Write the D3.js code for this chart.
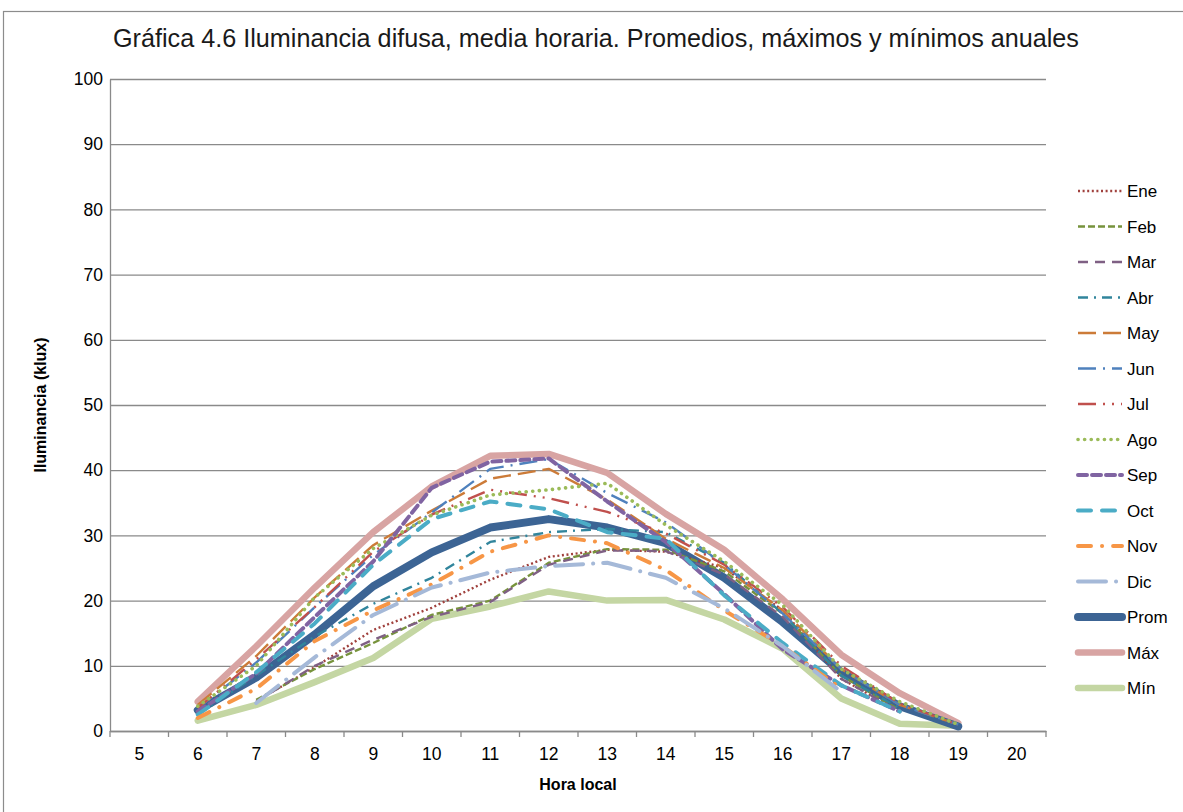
<!DOCTYPE html>
<html>
<head>
<meta charset="utf-8">
<script src="https://cdn.jsdelivr.net/npm/d3@7"></script>
<style>
  body { margin: 0; background: #fff; }
  svg { font-family: "Liberation Sans", Arial, sans-serif; }
</style>
</head>
<body>
<div class="chart-holder"></div>
<script>
// categories on the x axis (hora local)
var hours = [5, 6, 7, 8, 9, 10, 11, 12, 13, 14, 15, 16, 17, 18, 19, 20];
// values for hours 6..19 (null = no data)
var dataHours = [6, 7, 8, 9, 10, 11, 12, 13, 14, 15, 16, 17, 18, 19];
var yTicks = [0, 10, 20, 30, 40, 50, 60, 70, 80, 90, 100];

var ene  = [null, 4.6, 9.8, 15.5, 18.9, 23.2, 26.7, 27.8, 27.5, 25.0, 18.5, 8.0, 3.0, null];
var feb  = [null, 4.8, 9.5, 13.5, 17.8, 20.0, 25.8, 27.9, 27.8, 24.5, 18.0, 8.5, 3.2, null];
var mar  = [null, 4.5, 10.0, 14.0, 17.5, 19.8, 25.5, 27.7, 27.6, 24.0, 17.5, 8.0, 3.0, null];
var abr  = [2.5, 8.5, 14.5, 19.5, 23.5, 29.0, 30.5, 31.0, 30.5, 25.8, 18.0, 8.5, 3.5, null];
var may  = [4.0, 11.5, 20.5, 28.5, 33.8, 38.7, 40.2, 35.5, 29.5, 25.0, 18.5, 9.5, 4.0, 1.0];
var jun  = [3.5, 10.5, 19.0, 27.0, 33.5, 40.2, 41.7, 36.5, 32.0, 25.5, 18.0, 9.5, 4.0, 1.0];
var jul  = [3.5, 11.0, 19.0, 27.5, 33.2, 37.0, 35.7, 33.6, 30.3, 25.5, 19.0, 10.0, 4.2, 1.0];
var ago  = [3.8, 10.0, 20.5, 28.0, 33.1, 36.2, 37.0, 38.0, 31.6, 26.0, 19.3, 9.5, 4.5, 1.0];
var sep  = [3.0, 8.8, 17.5, 26.0, 37.3, 41.3, 41.8, 35.2, 29.0, 21.0, 12.5, 7.0, 3.0, null];
var oct  = [2.5, 9.0, 16.5, 25.5, 32.5, 35.2, 34.0, 30.5, 29.5, 20.8, 13.5, 7.0, 3.0, null];
var nov  = [2.0, 6.5, 13.8, 18.5, 22.5, 27.5, 30.0, 28.8, 24.7, 18.5, 13.0, 6.5, null, null];
var dic  = [null, 4.3, 11.3, 17.8, 22.0, 24.3, 25.3, 25.8, 23.5, 18.8, 13.0, 6.0, null, null];
var prom = [3.2, 8.2, 14.8, 22.2, 27.4, 31.2, 32.5, 31.2, 28.8, 23.5, 16.7, 9.0, 3.8, 0.7];
var maxi = [4.5, 13.0, 22.0, 30.5, 37.5, 42.2, 42.5, 39.6, 33.3, 27.8, 20.2, 11.7, 5.8, 1.2];
var mini = [1.6, 4.0, 7.5, 11.2, 17.2, 19.1, 21.4, 20.0, 20.1, 17.1, 12.6, 5.0, 1.1, 0.8];

var seriesNames = ["Ene", "Feb", "Mar", "Abr", "May", "Jun", "Jul", "Ago", "Sep", "Oct", "Nov", "Dic", "Prom", "Máx", "Mín"];
var seriesValues = [ene, feb, mar, abr, may, jun, jul, ago, sep, oct, nov, dic, prom, maxi, mini];

// line styles per series
var styles = {
  "Ene":  {color: "#A0413D", width: 2.4, dash: "2,2.6", cap: "butt"},
  "Feb":  {color: "#77933C", width: 2.4, dash: "7,3", cap: "butt"},
  "Mar":  {color: "#7F6084", width: 2.4, dash: "10,7", cap: "butt"},
  "Abr":  {color: "#31859C", width: 2.4, dash: "10,6,2,6", cap: "butt"},
  "May":  {color: "#CC7B38", width: 2.4, dash: "18,7", cap: "butt"},
  "Jun":  {color: "#4F81BD", width: 2.4, dash: "18,7,2,7", cap: "butt"},
  "Jul":  {color: "#C0504D", width: 2.4, dash: "18,7,2,7,2,7", cap: "butt"},
  "Ago":  {color: "#9BBB59", width: 3.6, dash: "0.1,6.5", cap: "round"},
  "Sep":  {color: "#8064A2", width: 4, dash: "9,5", cap: "round"},
  "Oct":  {color: "#4BACC6", width: 4, dash: "13,11", cap: "round"},
  "Nov":  {color: "#F79646", width: 4, dash: "13,11,0.1,11", cap: "round"},
  "Dic":  {color: "#A5B9D8", width: 4, dash: "28,10,0.1,10", cap: "round"},
  "Prom": {color: "#3C6494", width: 8, dash: null, cap: "round"},
  "Máx":  {color: "#D8A4A3", width: 6.5, dash: null, cap: "round"},
  "Mín":  {color: "#C4D6A3", width: 6.5, dash: null, cap: "round"}
};

var margin = {top: 79, left: 110};
var width = 936, height = 652;

var svg = d3.select(".chart-holder")
    .append("svg")
    .attr("width", 1183)
    .attr("height", 812);

// outer frame
svg.append("rect")
    .attr("x", 3.5).attr("y", 11.5)
    .attr("width", 1200).attr("height", 820)
    .attr("fill", "none")
    .attr("stroke", "#8c8c8c")
    .attr("stroke-width", 1.2);

var x = d3.scaleBand().domain(hours).range([0, width]).padding(0);
var y = d3.scaleLinear().domain([0, 100]).range([height, 0]);

var grp = svg.append("g").attr("transform", `translate(${margin.left}, ${margin.top})`);

// horizontal gridlines
grp.append("g")
    .attr("class", "grid")
    .call(d3.axisLeft(y).tickValues(yTicks).tickSize(-width).tickFormat(""))
    .call(function(g) {
      g.select(".domain").remove();
      g.selectAll("line").attr("stroke", "#8a8a8a").attr("stroke-width", 1.3);
    });

// y axis labels
grp.append("g")
    .call(d3.axisLeft(y).tickValues(yTicks).tickSize(0).tickPadding(7))
    .call(function(g) {
      g.select(".domain").attr("stroke", "#8a8a8a").attr("stroke-width", 1.3);
      g.selectAll("text").attr("font-size", 17.5).attr("fill", "#000")
        .style("font-family", "'Liberation Sans', Arial, sans-serif");
    });

// x axis: labels centered in the categories, ticks at the boundaries
grp.append("g")
    .attr("transform", `translate(0, ${height})`)
    .call(d3.axisBottom(x).tickSize(0).tickPadding(17))
    .call(function(g) {
      g.select(".domain").attr("stroke", "#8a8a8a").attr("stroke-width", 1.3);
      g.selectAll("text").attr("font-size", 17.5).attr("fill", "#000")
        .style("font-family", "'Liberation Sans', Arial, sans-serif");
    });

var boundaries = hours.map(function(h) { return x(h); }).concat([x(hours[hours.length - 1]) + x.bandwidth()]);
grp.append("g").selectAll("line")
    .data(boundaries)
  .enter().append("line")
    .attr("x1", function(d) { return d; }).attr("x2", function(d) { return d; })
    .attr("y1", height).attr("y2", height + 6)
    .attr("stroke", "#8a8a8a").attr("stroke-width", 1.3);

// lines
var line = d3.line()
    .defined(function(d) { return d.v !== null; })
    .x(function(d) { return x(d.h) + x.bandwidth() / 2; })
    .y(function(d) { return y(d.v); });

var drawOrder = ["Máx", "Mín", "Prom", "Ene", "Feb", "Mar", "Abr", "May", "Jun", "Jul", "Ago", "Sep", "Oct", "Nov", "Dic"];
drawOrder.forEach(function(name) {
  var vals = seriesValues[seriesNames.indexOf(name)];
  var pts = dataHours.map(function(h, i) { return {h: h, v: vals[i]}; });
  var st = styles[name];
  grp.append("path")
      .attr("d", line(pts))
      .attr("fill", "none")
      .attr("stroke", st.color)
      .attr("stroke-width", st.width)
      .attr("stroke-dasharray", st.dash)
      .attr("stroke-linecap", st.cap)
      .attr("stroke-linejoin", "round");
});

// legend
var legend = svg.append("g").attr("class", "legend");
seriesNames.forEach(function(name, i) {
  var st = styles[name];
  var ly = 191 + i * 35.5;
  legend.append("line")
      .attr("x1", 1078).attr("x2", 1122)
      .attr("y1", ly).attr("y2", ly)
      .attr("stroke", st.color)
      .attr("stroke-width", st.width)
      .attr("stroke-dasharray", st.dash)
      .attr("stroke-linecap", st.cap);
  legend.append("text")
      .attr("x", 1127).attr("y", ly + 6)
      .attr("font-size", 17)
      .attr("fill", "#000")
      .text(name);
});

// title
svg.append("text")
    .attr("x", 596).attr("y", 47)
    .attr("text-anchor", "middle")
    .attr("font-size", 25.2)
    .attr("fill", "#1a1a1a")
    .text("Gráfica 4.6 Iluminancia difusa, media horaria. Promedios, máximos y mínimos anuales");

// axis titles
svg.append("text")
    .attr("transform", "translate(46, 405) rotate(-90)")
    .attr("text-anchor", "middle")
    .attr("font-size", 16)
    .attr("font-weight", "bold")
    .text("Iluminancia (klux)");

svg.append("text")
    .attr("x", 578).attr("y", 790)
    .attr("text-anchor", "middle")
    .attr("font-size", 16)
    .attr("font-weight", "bold")
    .text("Hora local");
</script>
</body>
</html>
